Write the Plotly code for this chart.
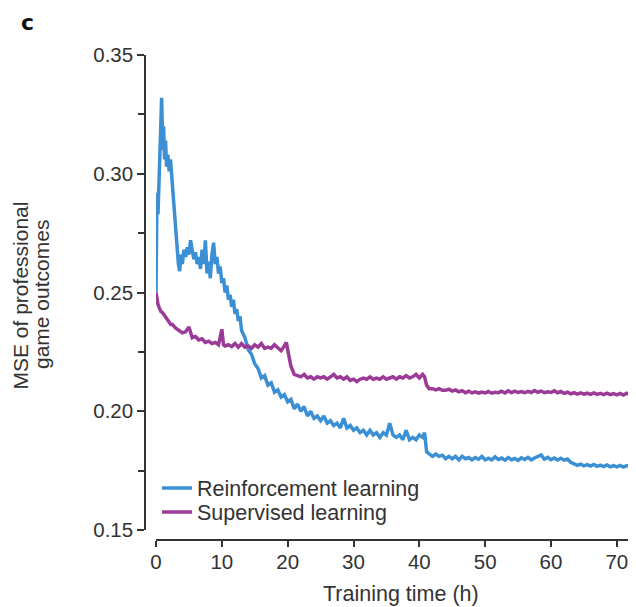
import plotly.graph_objects as go

# ---- data ----
rl_hours = [0, 0.05, 0.15, 0.3, 0.45, 0.6, 0.75, 0.85, 0.95, 1.05, 1.15, 1.3, 1.45, 1.6, 1.8,
            2.0, 2.2, 2.4, 2.6, 2.8, 3.0, 3.2, 3.4, 3.6, 3.8, 4.0, 4.25, 4.5, 4.75, 5.0, 5.25,
            5.5, 5.75, 6.0, 6.25, 6.5, 6.75, 7.0, 7.25, 7.5, 7.75, 8.0, 8.25, 8.5, 8.75, 9.0,
            9.25, 9.5, 9.75, 10.0, 10.25, 10.5, 10.75, 11.0, 11.25, 11.5, 11.75, 12.0, 12.25,
            12.5, 12.75, 13.0, 13.5, 14.0, 14.5, 15.0, 15.5, 16.0, 16.5, 17.0, 17.5, 18.0, 18.5,
            19.0, 19.5, 20.0, 20.5, 21.0, 21.5, 22.0, 22.5, 23.0, 23.5, 24.0, 24.5, 25.0, 25.5,
            26.0, 26.5, 27.0, 27.5, 28.0, 28.5, 29.0, 29.5, 30.0, 30.5, 31.0, 31.5, 32.0, 32.5,
            33.0, 33.5, 34.0, 34.5, 35.0, 35.5, 36.0, 36.5, 37.0, 37.5, 38.0, 38.5, 39.0, 39.5,
            40.0, 40.5, 40.8, 41.1, 41.5, 42.0, 42.5, 43.0, 43.5, 44.0, 44.5, 45.0, 45.5, 46.0,
            46.5, 47.0, 47.5, 48.0, 48.5, 49.0, 49.5, 50.0, 50.5, 51.0, 51.5, 52.0, 52.5, 53.0,
            53.5, 54.0, 54.5, 55.0, 55.5, 56.0, 56.5, 57.0, 57.5, 58.0, 58.5, 59.0, 59.5, 60.0,
            60.5, 61.0, 61.5, 62.0, 62.5, 63.0, 63.5, 64.0, 64.5, 65.0, 65.5, 66.0, 66.5, 67.0,
            67.5, 68.0, 68.5, 69.0, 69.5, 70.0, 70.5, 71.0, 71.5, 72.0]
rl_mse = [0.250, 0.285, 0.292, 0.283, 0.293, 0.305, 0.322, 0.332, 0.318, 0.310, 0.320, 0.306,
          0.314, 0.303, 0.308, 0.301, 0.306, 0.298, 0.292, 0.282, 0.276, 0.270, 0.262, 0.259,
          0.266, 0.262, 0.268, 0.265, 0.269, 0.266, 0.272, 0.268, 0.264, 0.267, 0.262, 0.265,
          0.260, 0.268, 0.262, 0.272, 0.258, 0.263, 0.256, 0.266, 0.271, 0.262, 0.265, 0.258,
          0.261, 0.254, 0.256, 0.250, 0.253, 0.247, 0.249, 0.244, 0.247, 0.241, 0.243, 0.238,
          0.240, 0.234, 0.231, 0.226, 0.224, 0.220, 0.218, 0.214, 0.215, 0.211, 0.212, 0.208,
          0.209, 0.206, 0.207, 0.204, 0.205, 0.201, 0.203, 0.200, 0.202, 0.198, 0.200, 0.197,
          0.198, 0.196, 0.198, 0.195, 0.196, 0.194, 0.195, 0.193, 0.197, 0.193, 0.194, 0.192,
          0.193, 0.191, 0.192, 0.190, 0.192, 0.190, 0.191, 0.189, 0.191, 0.190, 0.195, 0.190,
          0.189, 0.190, 0.188, 0.192, 0.188, 0.189, 0.188, 0.190, 0.189, 0.191, 0.183, 0.182,
          0.181, 0.182, 0.181, 0.1815, 0.180, 0.181, 0.180, 0.181, 0.1795, 0.181, 0.180, 0.1805,
          0.1795, 0.1805, 0.1798, 0.181, 0.1795, 0.1802, 0.1795, 0.1808, 0.1797, 0.1803, 0.1794,
          0.1805, 0.1796, 0.1801, 0.1793, 0.1804, 0.1797, 0.1806, 0.1795, 0.1803, 0.1808, 0.1816,
          0.1798, 0.1806, 0.1796, 0.1803, 0.1795, 0.1802, 0.1794, 0.1799, 0.1785, 0.1778, 0.1772,
          0.1777, 0.1770, 0.1775, 0.1769, 0.1776, 0.1768, 0.1773, 0.1767, 0.1774, 0.1766, 0.1771,
          0.1766, 0.1772, 0.1765, 0.1771, 0.1767]

sl_hours = [0, 0.15, 0.3, 0.5, 0.75, 1.0, 1.25, 1.5, 1.75, 2.0, 2.25, 2.5, 2.75, 3.0, 3.5, 4.0,
            4.5, 5.0, 5.5, 6.0, 6.5, 7.0, 7.5, 8.0, 8.5, 9.0, 9.5, 10.0, 10.25, 10.5, 11.0, 11.5,
            12.0, 12.5, 13.0, 13.5, 14.0, 14.5, 15.0, 15.5, 16.0, 16.5, 17.0, 17.5, 18.0, 18.5,
            19.0, 19.5, 19.8, 20.1, 20.5, 21.0, 21.5, 22.0, 22.5, 23.0, 23.5, 24.0, 24.5, 25.0,
            25.5, 26.0, 26.5, 27.0, 27.5, 28.0, 28.5, 29.0, 29.5, 30.0, 30.5, 31.0, 31.5, 32.0,
            32.5, 33.0, 33.5, 34.0, 34.5, 35.0, 35.5, 36.0, 36.5, 37.0, 37.5, 38.0, 38.5, 39.0,
            39.5, 40.0, 40.5, 40.8, 41.1, 41.5, 42.0, 42.5, 43.0, 43.5, 44.0, 44.5, 45.0, 45.5,
            46.0, 46.5, 47.0, 47.5, 48.0, 48.5, 49.0, 49.5, 50.0, 50.5, 51.0, 51.5, 52.0, 52.5,
            53.0, 53.5, 54.0, 54.5, 55.0, 55.5, 56.0, 56.5, 57.0, 57.5, 58.0, 58.5, 59.0, 59.5,
            60.0, 60.5, 61.0, 61.5, 62.0, 62.5, 63.0, 63.5, 64.0, 64.5, 65.0, 65.5, 66.0, 66.5,
            67.0, 67.5, 68.0, 68.5, 69.0, 69.5, 70.0, 70.5, 71.0, 71.5, 72.0]
sl_mse = [0.250, 0.247, 0.245, 0.2435, 0.242, 0.2415, 0.2405, 0.239, 0.238, 0.2375, 0.2365,
          0.2365, 0.2355, 0.235, 0.234, 0.233, 0.2335, 0.2355, 0.231, 0.2315, 0.230, 0.2305,
          0.229, 0.2295, 0.2285, 0.229, 0.228, 0.2345, 0.228, 0.2275, 0.228, 0.2272, 0.2285,
          0.227, 0.2285, 0.227, 0.2275, 0.2265, 0.228, 0.227, 0.2285, 0.2265, 0.227, 0.2265,
          0.228, 0.2265, 0.2255, 0.2275, 0.229, 0.2245, 0.219, 0.2155, 0.215, 0.2145, 0.2155,
          0.214, 0.2145, 0.2135, 0.2145, 0.214, 0.2145, 0.2135, 0.2145, 0.2155, 0.214, 0.2145,
          0.2135, 0.2145, 0.213, 0.2135, 0.2125, 0.2135, 0.214, 0.2135, 0.2145, 0.2135, 0.214,
          0.2135, 0.2145, 0.2135, 0.214, 0.2145, 0.2135, 0.2145, 0.214, 0.215, 0.214, 0.2145,
          0.2155, 0.214, 0.2155, 0.2145, 0.211, 0.2095, 0.2095, 0.209, 0.2095, 0.2088, 0.2088,
          0.2093, 0.2085, 0.209, 0.2082, 0.2087, 0.2078, 0.2084, 0.2077, 0.2082, 0.2076, 0.2081,
          0.2077, 0.2083, 0.2076, 0.208, 0.2078, 0.2084, 0.2077, 0.2086, 0.2079, 0.2085, 0.2079,
          0.2083, 0.2078, 0.2084, 0.2079, 0.2087, 0.208, 0.2085, 0.2078, 0.2082, 0.2079, 0.2086,
          0.2078, 0.2083, 0.2075, 0.208, 0.2073, 0.2078, 0.2072, 0.2077, 0.2072, 0.2076, 0.2071,
          0.2077, 0.2071, 0.2075, 0.207, 0.2076, 0.207, 0.2074, 0.2069, 0.2075, 0.2068, 0.2076,
          0.2069]

x_ticks = [0, 10, 20, 30, 40, 50, 60, 70]
y_ticks = [0.15, 0.20, 0.25, 0.30, 0.35]
y_tick_labels = ["0.15", "0.20", "0.25", "0.30", "0.35"]
y_minor_ticks = [0.175, 0.225, 0.275, 0.325]

series_names = ["Reinforcement learning", "Supervised learning"]
y_title_lines = ["MSE of professional", "game outcomes"]
BLUE = "#3b8fd4"
PURPLE = "#9c3a97"
TEXT = "#333333"
FONT = "Liberation Sans, Arial, Helvetica, sans-serif"

# page body has an 8px margin, so the figure is 8px smaller and everything is offset by -8
OFF = 8
W, H = 636 - OFF, 607 - OFF
L, T = 145 - OFF, 55 - OFF
R, B = W - (630 - OFF), H - (540 - OFF)
pw = W - L - R
ph = H - T - B


def px_x(p):
    return (p - OFF - L) / pw


def px_y(p):
    return (T + ph - (p - OFF)) / ph


fig = go.Figure()
fig.add_trace(go.Scatter(x=rl_hours, y=rl_mse, mode="lines", name=series_names[0],
                         line=dict(color=BLUE, width=3.5), legend="legend"))
fig.add_trace(go.Scatter(x=sl_hours, y=sl_mse, mode="lines", name=series_names[1],
                         line=dict(color=PURPLE, width=3.5), legend="legend2"))

leg_common = dict(xanchor="left", yanchor="middle", bgcolor="rgba(0,0,0,0)",
                  font=dict(size=21.5, color=TEXT), itemwidth=30, borderwidth=0)

fig.update_layout(
    width=W, height=H,
    margin=dict(l=L, r=R, t=T, b=B, pad=0),
    paper_bgcolor="white", plot_bgcolor="white",
    font=dict(family=FONT, size=20, color=TEXT),
    showlegend=True,
    legend=dict(x=px_x(157), y=px_y(488), **leg_common),
    legend2=dict(x=px_x(157), y=px_y(512), **leg_common),
    xaxis=dict(domain=[px_x(156), 1], range=[0, 72], anchor="free", position=0,
               tickvals=x_ticks, ticks="outside", ticklen=6, tickwidth=1.5,
               tickcolor=TEXT, showline=True, linecolor=TEXT, linewidth=1.5,
               showgrid=False, zeroline=False, tickfont=dict(size=20.5, color=TEXT),
               ticklabelstandoff=-2),
    yaxis=dict(domain=[px_y(530), 1], range=[0.15, 0.35], anchor="free", position=0,
               tickvals=y_ticks, ticktext=y_tick_labels, ticks="outside", ticklen=7,
               tickwidth=1.5, tickcolor=TEXT, showline=True, linecolor=TEXT, linewidth=1.5,
               showgrid=False, zeroline=False, tickfont=dict(size=20.5, color=TEXT),
               minor=dict(tickvals=y_minor_ticks, ticks="outside", ticklen=6,
                          tickcolor=TEXT, tickwidth=1.5, showgrid=False)),
)

fig.add_annotation(text="Training time (h)", xref="paper", yref="paper",
                   x=px_x(401), y=px_y(594), showarrow=False,
                   xanchor="center", yanchor="middle", font=dict(size=21.5, color=TEXT))
for line_text, cx in zip(y_title_lines, [19.5, 41]):
    fig.add_annotation(text=line_text, xref="paper", yref="paper",
                       x=px_x(cx), y=px_y(295), showarrow=False, textangle=-90,
                       xanchor="center", yanchor="middle", font=dict(size=21, color=TEXT))
fig.add_annotation(text="<b>c</b>", xref="paper", yref="paper",
                   x=px_x(27), y=px_y(OFF), showarrow=False,
                   xanchor="center", yanchor="top",
                   font=dict(size=22, color="#111111", family="DejaVu Sans, Arial"))

fig.write_html("out.html")
